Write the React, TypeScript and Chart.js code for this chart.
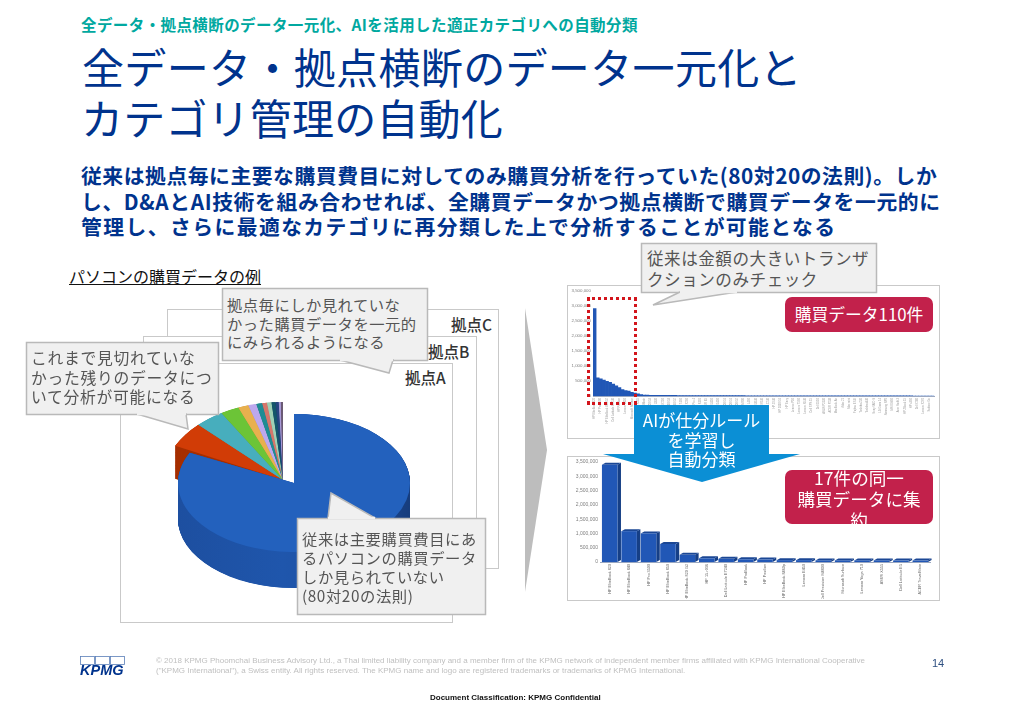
import React, { useEffect, useRef } from "react";
import { Chart, registerables } from "chart.js";

Chart.register(...registerables);

const pieLabels = ["パソコン", "サーバー", "プリンタ", "モニタ", "ソフトウェア", "周辺機器", "タブレット", "ネットワーク", "保守", "記憶装置", "プロジェクタ", "電話機", "その他"];
const pieValues = [82.2, 5.3, 3.9, 2.5, 1.4, 1.1, 0.8, 0.64, 0.6, 0.55, 0.42, 0.28, 0.28];
const pieColors = ["#2361bd", "#d13c06", "#47aebd", "#6cc437", "#e8b04e", "#bda8ee", "#1f8c94", "#d5766b", "#9fd0b5", "#14566b", "#26457f", "#a99ad8", "#6b5a74"];
const pieSides = ["#1c4f9e", "#a63000", "#38909c", "#58a02c", "#c0913f", "#9a88c4", "#19737a", "#b06056", "#83ab95", "#104657", "#1e3867", "#8b7eb2", "#58495f"];

const allLabels = [
  "HP EliteBook 820", "HP EliteBook 840", "HP Pro 3500", "HP EliteBook 850", "HP EliteBook 820 G2", "HP 15-r036", "Dell Latitude E7240", "HP ProBook", "HP Pavilion", "HP EliteBook 8460p",
  "Lenovo E450", "Dell Precision M4800", "Microsoft Surface", "Lenovo Yoga 710", "ASUS X555", "Dell Latitude E5", "ACER TravelMate", "HP 840 G2", "HP 820 G3", "HP 850 G2",
  "HP Pro 3330", "HP 15-ac", "Dell E7250", "Dell E7270", "HP 430 G3", "HP 450 G3", "HP 640 G2", "HP 650 G2", "Lenovo T460", "Lenovo T450",
  "Lenovo X260", "Lenovo X250", "Surface Pro 4", "Surface Book", "ASUS K401", "ASUS UX305", "ACER E5", "ACER V3", "Dell 3450", "Dell 3460",
  "Dell 5450", "Dell 5470", "HP 800 G1", "HP 800 G2", "HP 600 G1", "HP 600 G2", "HP 400 G2", "HP 400 G3", "Lenovo M700", "Lenovo M900",
  "Lenovo L460", "Lenovo L450", "Dell 3040", "Dell 5040", "Dell 7040", "Dell 9020", "HP Z240", "HP Z440", "HP Z640", "HP 1040 G3",
  "HP 1030 G1", "HP Spectre", "HP Envy", "HP Omen", "Lenovo P50", "Lenovo P70", "Lenovo T560", "Lenovo E560", "Lenovo S540", "Dell XPS 13",
  "Dell XPS 15", "Dell 7510", "Dell 5510", "Dell 3510", "ASUS P2430", "ASUS P2530", "ACER P238", "ACER P258", "MacBook Air", "MacBook Pro",
  "iMac 21", "iMac 27", "Mac mini", "Fujitsu E736", "Fujitsu E746", "Fujitsu U745", "Toshiba Z30", "Toshiba R40", "Toshiba A40", "Toshiba C50",
  "Sony VAIO S", "Sony VAIO Z", "LG Gram 14", "LG Gram 15", "Samsung NP9", "Samsung NP7", "MSI GS60", "MSI GE62", "Acer Swift 3", "Acer Spin 5",
  "HP ZBook 15", "HP ZBook 17", "HP x360", "Dell 7480", "Dell 7280", "Lenovo X1", "Lenovo X270", "Lenovo T470", "Surface Go", "Surface 3",
];

const topValues = [
  2900000, 600000, 570000, 530000, 490000, 450000, 400000, 340000, 280000, 210000,
  180000, 160000, 120000, 95000, 70000, 45000, 32000, 28000, 26000, 25000,
  24000, 23000, 22000, 21000, 20000, 20000, 19000, 18000, 18000, 17000,
  16000, 16000, 15000, 15000, 14000, 14000, 13000, 13000, 13000, 12000,
  12000, 12000, 11000, 11000, 11000, 10000, 10000, 10000, 10000, 9000,
  9000, 9000, 9000, 8000, 8000, 8000, 8000, 8000, 7000, 7000,
  7000, 7000, 7000, 7000, 6000, 6000, 6000, 6000, 6000, 6000,
  5000, 5000, 5000, 5000, 5000, 5000, 5000, 4000, 4000, 4000,
  4000, 4000, 4000, 4000, 4000, 3000, 3000, 3000, 3000, 3000,
  3000, 3000, 3000, 3000, 2000, 2000, 2000, 2000, 2000, 2000,
  2000, 2000, 2000, 1000, 1000, 1000, 1000, 1000, 1000, 1000,
];

const bottomLabels = allLabels.slice(0, 17);
const bottomValues = [3400000, 1080000, 1000000, 630000, 250000, 130000, 110000, 95000, 85000, 65000, 65000, 55000, 55000, 55000, 55000, 50000, 50000];

const titleLine = "全データ・拠点横断のデータ一元化、AIを活用した適正カテゴリへの自動分類";
const headLines = ["全データ・拠点横断のデータ一元化と", "カテゴリ管理の自動化"];
const leadLines = [
  "従来は拠点毎に主要な購買費目に対してのみ購買分析を行っていた(80対20の法則)。しか",
  "し、D&AとAI技術を組み合わせれば、全購買データかつ拠点横断で購買データを一元的に",
  "管理し、さらに最適なカテゴリに再分類した上で分析することが可能となる",
];
const leadSpacing = [0.55, 0.63, 1.44];

const JP = '"Noto Sans CJK JP", "Noto Sans", sans-serif';
const LAT = '"Liberation Sans", Arial, sans-serif';

const squashPlugin = {
  id: "squash",
  beforeDatasetsDraw(chart: any, _a: any, o: any) {
    const { ctx } = chart;
    const arcs = chart.getDatasetMeta(0).data;
    const cx = arcs[0].x, cy = arcs[0].y, r = arcs[0].outerRadius;
    ctx.save();
    ctx.translate(cx, cy);
    ctx.scale(1, o.k);
    ctx.translate(-cx, -cy);
    const h = o.depth / o.k;
    for (let d = h; d > 0; d -= 0.5) {
      arcs.forEach((a: any, i: number) => {
        if (!o.show(i)) return;
        let fill: any = pieSides[i];
        if (i === 0) {
          const g = ctx.createLinearGradient(cx - r, 0, cx + r, 0);
          g.addColorStop(0, "#1d4fa0");
          g.addColorStop(0.45, "#1f56ac");
          g.addColorStop(0.8, "#1d4e9e");
          g.addColorStop(1, "#163c7c");
          fill = g;
        }
        ctx.fillStyle = fill;
        ctx.beginPath();
        ctx.moveTo(cx, cy + d);
        ctx.arc(cx, cy + d, r, a.startAngle, a.endAngle);
        ctx.closePath();
        ctx.fill();
      });
    }
  },
  afterDatasetsDraw(chart: any) {
    chart.ctx.restore();
  },
};

const bar3dPlugin = {
  id: "bar3d",
  beforeDatasetsDraw(chart: any) {
    const { ctx } = chart;
    const dx = 3.5, dy = 2;
    chart.getDatasetMeta(0).data.forEach((b: any) => {
      const l = b.x - b.width / 2, r = b.x + b.width / 2;
      ctx.fillStyle = "#163f86";
      ctx.beginPath();
      ctx.moveTo(r, b.base);
      ctx.lineTo(r + dx, b.base - dy);
      ctx.lineTo(r + dx, b.y - dy);
      ctx.lineTo(r, b.y);
      ctx.closePath();
      ctx.fill();
      ctx.fillStyle = "#1b4795";
      ctx.beginPath();
      ctx.moveTo(l, b.y);
      ctx.lineTo(l + dx, b.y - dy);
      ctx.lineTo(r + dx, b.y - dy);
      ctx.lineTo(r, b.y);
      ctx.closePath();
      ctx.fill();
    });
  },
};

function PieLayer({ left, top, size, k, depth, show }: any) {
  const ref = useRef<HTMLCanvasElement>(null);
  useEffect(() => {
    const chart = new Chart(ref.current!, {
      type: "pie",
      data: {
        labels: pieLabels,
        datasets: [{
          data: pieValues,
          backgroundColor: pieColors.map((c, i) => (show(i) ? c : "rgba(0,0,0,0)")),
          borderWidth: 0,
          clip: false,
        } as any],
      },
      options: {
        animation: false,
        responsive: false,
        plugins: { legend: { display: false }, tooltip: { enabled: false }, squash: { k, depth, show } } as any,
      },
      plugins: [squashPlugin as any],
    });
    return () => chart.destroy();
  }, []);
  return <canvas ref={ref} width={size} height={size} style={{ position: "absolute", left, top, width: size, height: size }} />;
}

function BarChart({ left, top, width, height, labels, values, yWidth, xHeight, pad, yFont, xFont, xColor, barPct, every, three }: any) {
  const ref = useRef<HTMLCanvasElement>(null);
  useEffect(() => {
    const chart = new Chart(ref.current!, {
      type: "bar",
      data: {
        labels,
        datasets: [{ data: values, backgroundColor: "#2157b6", barPercentage: barPct, categoryPercentage: 1 }],
      },
      options: {
        animation: false,
        responsive: false,
        layout: { padding: pad },
        plugins: { legend: { display: false }, tooltip: { enabled: false } },
        scales: {
          x: {
            grid: { display: false, drawTicks: false },
            border: { display: true, color: "#9aa7c0", width: 1 },
            afterFit: (s: any) => { s.height = xHeight; },
            ticks: {
              autoSkip: false,
              minRotation: 90,
              maxRotation: 90,
              padding: 2,
              color: xColor,
              font: { size: xFont, family: LAT },
              callback: function (this: any, v: any, i: number) {
                return i % every === 0 ? this.getLabelForValue(v) : "";
              },
            },
          },
          y: {
            min: 0,
            max: 3500000,
            grid: { display: false, drawTicks: false },
            border: { display: false },
            afterFit: (s: any) => { s.width = yWidth; },
            ticks: {
              stepSize: 500000,
              padding: 2,
              color: "#808080",
              font: { size: yFont, family: LAT },
              callback: (v: any) => Number(v).toLocaleString("en-US"),
            },
          },
        },
      },
      plugins: three ? [bar3dPlugin as any] : [],
    });
    return () => chart.destroy();
  }, []);
  return <canvas ref={ref} width={width} height={height} style={{ position: "absolute", left, top, width, height }} />;
}

function Callout({ x, y, w, h, tail, lines, size, lh, pad, ls }: any) {
  const pts = tail.map((p: number[]) => p.join(",")).join(" ");
  return (
    <>
      <svg width={1024} height={710} style={{ position: "absolute", left: 0, top: 0, pointerEvents: "none" }}>
        <rect x={x + 0.5} y={y + 0.5} width={w} height={h} fill="#f0f0f0" stroke="#b9b9b9" strokeWidth={1.5} />
        <polygon points={pts} fill="#f0f0f0" stroke="#b9b9b9" strokeWidth={1.5} />
        <line x1={tail[0][0]} y1={tail[0][1]} x2={tail[2][0]} y2={tail[2][1]} stroke="#f0f0f0" strokeWidth={2.5} />
      </svg>
      <div style={{ position: "absolute", left: x + pad[0], top: y + pad[1], fontFamily: JP, fontSize: size, letterSpacing: ls, lineHeight: `${lh}px`, color: "#555", whiteSpace: "nowrap" }}>
        {lines.map((l: string, i: number) => <div key={i}>{l}</div>)}
      </div>
    </>
  );
}

function Txt({ x, y, s, c, w, ls, fam, lh, extra, children }: any) {
  return (
    <div style={{ position: "absolute", left: x, top: y, fontSize: s, color: c, fontWeight: w || 400, letterSpacing: ls || 0, fontFamily: fam || JP, lineHeight: lh ? `${lh}px` : 1, whiteSpace: "nowrap", ...extra }}>
      {children}
    </div>
  );
}

function Frame({ x, y, w, h }: any) {
  return <div style={{ position: "absolute", left: x, top: y, width: w, height: h, background: "#fff", border: "1.5px solid #c9c9c9", boxSizing: "border-box" }} />;
}

export default function App() {
  useEffect(() => {
    document.body.style.margin = "0";
    document.body.style.background = "#fff";
  }, []);
  return (
    <div style={{ position: "absolute", left: 0, top: 0, width: 1024, height: 710, overflow: "hidden", background: "#fff", filter: "blur(0.35px)" }}>
      <Txt x={81} y={17} s={15.5} c="#00a8a0" w={700} ls={0.41}>{titleLine}</Txt>
      <Txt x={82} y={45} s={42} c="#00338d" ls={0.35}>{headLines[0]}</Txt>
      <Txt x={81} y={96} s={42} c="#00338d" ls={0.2}>{headLines[1]}</Txt>
      {leadLines.map((l, i) => (
        <Txt key={i} x={81} y={165 + i * 25.5} s={20.8} c="#00338d" w={700} ls={leadSpacing[i]}>{l}</Txt>
      ))}
      <Txt x={69} y={268} s={16} c="#111" extra={{ textDecoration: "underline" }}>パソコンの購買データの例</Txt>

      <Frame x={167} y={309} w={332} h={260} />
      <Frame x={143} y={336} w={334} h={262} />
      <Frame x={120} y={363} w={333} h={260} />
      <Txt x={451} y={317} s={15.5} c="#333" w={500}>拠点C</Txt>
      <Txt x={428} y={344} s={15.5} c="#333" w={500}>拠点B</Txt>
      <Txt x={405} y={370} s={15.5} c="#333" w={500}>拠点A</Txt>

      <PieLayer left={163} top={360} size={240} k={0.65} depth={33} show={(i: number) => i !== 0} />
      <PieLayer left={178} top={367} size={232} k={0.595} depth={36} show={(i: number) => i === 0} />

      <Callout x={222} y={288} w={205} h={72} tail={[[340, 360], [389, 373], [393, 360]]} lines={["拠点毎にしか見れていな", "かった購買データを一元的", "にみられるようになる"]} size={15.3} ls={0.5} lh={18.5} pad={[5, 7]} />
      <Callout x={26} y={342} w={192} h={72} tail={[[137, 414], [188, 429], [186, 414]]} lines={["これまで見切れていな", "かった残りのデータにつ", "いて分析が可能になる"]} size={15.8} ls={0.7} lh={19.5} pad={[5, 6]} />
      <Callout x={297} y={518} w={188} h={96} tail={[[328, 518], [331, 493], [375, 518]]} lines={["従来は主要購買費目にあ", "るパソコンの購買データ", "しか見られていない", "(80対20の法則)"]} size={15.3} ls={0.6} lh={19} pad={[5, 11]} />

      <svg width={1024} height={710} style={{ position: "absolute", left: 0, top: 0 }}>
        <polygon points="525,308 547,450 525,592" fill="#bdbdbd" />
      </svg>

      <Frame x={567} y={285} w={373} h={154} />
      <BarChart left={568} top={286} width={370} height={151} labels={allLabels} values={topValues} yWidth={25} xHeight={41} pad={{ top: 3, right: 3, left: 0, bottom: 0 }} yFont={4.4} xFont={2.7} xColor="#999" barPct={1} every={2} three={false} />
      <Frame x={567} y={456} w={373} h={145} />
      <BarChart left={568} top={457} width={370} height={142} labels={bottomLabels} values={bottomValues} yWidth={32} xHeight={37} pad={{ top: 5, right: 8, left: 0, bottom: 0 }} yFont={5} xFont={3.8} xColor="#666" barPct={0.8} every={1} three={true} />

      <div style={{ position: "absolute", left: 587, top: 297, width: 50, height: 108, border: "3px dotted #d3151c", boxSizing: "border-box" }} />

      <Callout x={641} y={243} w={235} h={49} tail={[[680, 292], [653, 305], [737, 292]]} lines={["従来は金額の大きいトランザ", "クションのみチェック"]} size={16.6} ls={0.5} lh={20.5} pad={[6, 5]} />

      <div style={{ position: "absolute", left: 785, top: 297, width: 148, height: 35, background: "#c2214b", borderRadius: 7, color: "#fff", fontFamily: JP, fontSize: 16.8, lineHeight: "35px", textAlign: "center" }}>購買データ110件</div>

      <svg width={1024} height={710} style={{ position: "absolute", left: 0, top: 0 }}>
        <polygon points="634,405 769,405 769,454 800,454 702,482 603,454 634,454" fill="#0b8fd5" />
      </svg>
      <div style={{ position: "absolute", left: 634, top: 410, width: 135, color: "#fff", fontFamily: JP, fontSize: 17, lineHeight: "19.5px", textAlign: "center" }}>
        <div>AIが仕分ルール</div>
        <div>を学習し</div>
        <div>自動分類</div>
      </div>

      <div style={{ position: "absolute", left: 785, top: 470, width: 148, height: 54, background: "#c2214b", borderRadius: 7, overflow: "hidden", color: "#fff", fontFamily: JP, fontSize: 17.6, lineHeight: "21px", textAlign: "center" }}>
        <div style={{ marginTop: -3 }}>17件の同一</div>
        <div>購買データに集</div>
        <div>約</div>
      </div>

      <svg width={1024} height={710} style={{ position: "absolute", left: 0, top: 0 }}>
        {[80, 95, 110].map((x) => <rect key={x} x={x + 0.5} y={656.5} width={14} height={8} fill="none" stroke="#5b7fb8" strokeWidth={0.8} />)}
      </svg>
      <Txt x={80} y={663} s={14.5} c="#00338d" w={700} fam={LAT} extra={{ fontStyle: "italic" }}>KPMG</Txt>
      <Txt x={156} y={657} s={8} c="#c0c0c0" fam={LAT}>© 2018 KPMG Phoomchai Business Advisory Ltd., a Thai limited liability company and a member firm of the KPMG network of independent member firms affiliated with KPMG International Cooperative</Txt>
      <Txt x={156} y={667} s={8} c="#c0c0c0" fam={LAT}>("KPMG International"), a Swiss entity. All rights reserved.  The KPMG name and logo are registered trademarks or trademarks of KPMG International.</Txt>
      <Txt x={932} y={658} s={11} c="#2d4f80" fam={LAT}>14</Txt>
      <Txt x={430} y={694} s={8} c="#111" w={700} fam={LAT}>Document Classification: KPMG Confidential</Txt>
    </div>
  );
}
